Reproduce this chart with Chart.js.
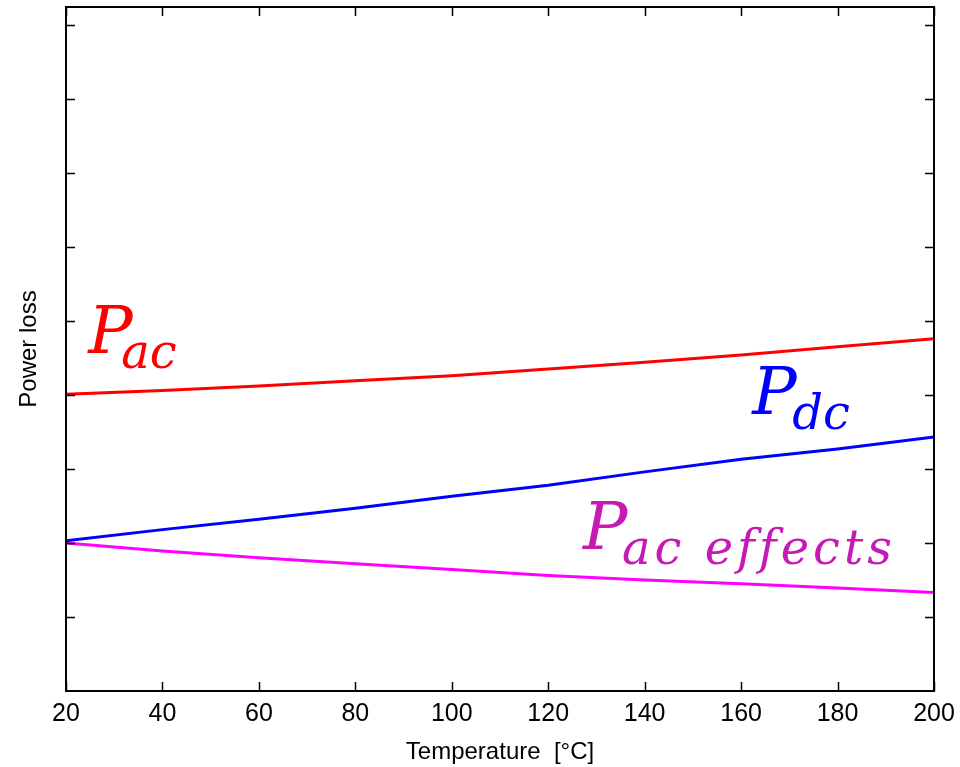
<!DOCTYPE html>
<html>
<head>
<meta charset="utf-8">
<title>Power loss vs temperature</title>
<script src="https://cdn.jsdelivr.net/npm/chart.js@4.4.0/dist/chart.umd.min.js"></script>
<style>
  html, body { margin: 0; padding: 0; background: #fff; }
</style>
</head>
<body>
<canvas id="lossChart" width="960" height="767"></canvas>
<script>
// Temperature sweep (°C) and loss curves (arbitrary units)
const temperature = [20, 40, 60, 80, 100, 120, 140, 160, 180, 200];
const pAc        = [4.01, 4.06, 4.12, 4.19, 4.26, 4.35, 4.44, 4.54, 4.65, 4.76];
const pDc        = [2.03, 2.18, 2.32, 2.47, 2.63, 2.78, 2.96, 3.13, 3.27, 3.43];
const pAcEffects = [2.00, 1.89, 1.80, 1.72, 1.64, 1.56, 1.50, 1.45, 1.39, 1.33];

const xTicks = [20, 40, 60, 80, 100, 120, 140, 160, 180, 200];
const yTicks = [1, 2, 3, 4, 5, 6, 7, 8, 9];

// Math-style labels next to each curve, anchored in data units
const curveLabels = [
  { main: 'P', sub: 'ac',         color: '#ff0000', x: 24.6,  y: 4.57, subDx: 33, spacing: 0 },
  { main: 'P', sub: 'dc',         color: '#0000ff', x: 162.3, y: 3.74, subDx: 40, spacing: 0 },
  { main: 'P', sub: 'ac effects', color: '#c71ab4', x: 127.2, y: 1.92, subDx: 39, spacing: 4 }
];

const axisFont = { family: "'Liberation Sans', Arial, sans-serif", size: 24 };

const labelPlugin = {
  id: 'curveLabels',
  afterDatasetsDraw(chart) {
    const { ctx, scales: { x, y } } = chart;
    ctx.save();
    ctx.textBaseline = 'alphabetic';
    ctx.textAlign = 'left';
    curveLabels.forEach(l => {
      const px = x.getPixelForValue(l.x);
      const py = y.getPixelForValue(l.y);
      ctx.fillStyle = l.color;
      ctx.letterSpacing = '0px';
      ctx.font = "italic 66px 'DejaVu Serif', serif";
      ctx.fillText(l.main, px, py);
      ctx.font = "italic 48px 'DejaVu Serif', serif";
      ctx.letterSpacing = l.spacing + 'px';
      ctx.fillText(l.sub, px + l.subDx, py + 15);
    });
    ctx.restore();
  }
};

// Box frame with inward ticks on all four sides
const framePlugin = {
  id: 'frame',
  afterDraw(chart) {
    const { ctx, chartArea: a, scales: { x, y } } = chart;
    ctx.save();
    ctx.strokeStyle = '#000';
    ctx.lineWidth = 1.5;
    ctx.beginPath();
    xTicks.forEach(v => {
      const px = Math.round(x.getPixelForValue(v)) + 0.5;
      ctx.moveTo(px, a.bottom); ctx.lineTo(px, a.bottom - 9);
      ctx.moveTo(px, a.top);    ctx.lineTo(px, a.top + 9);
    });
    yTicks.forEach(v => {
      const py = Math.round(y.getPixelForValue(v)) + 0.5;
      ctx.moveTo(a.left, py);  ctx.lineTo(a.left + 9, py);
      ctx.moveTo(a.right, py); ctx.lineTo(a.right - 9, py);
    });
    ctx.stroke();
    ctx.lineWidth = 2;
    ctx.strokeRect(a.left, a.top, a.right - a.left, a.bottom - a.top);
    ctx.restore();
  }
};

const line = (data, color) => ({
  data, borderColor: color, backgroundColor: color,
  borderWidth: 3, pointRadius: 0, tension: 0, fill: false
});

new Chart(document.getElementById('lossChart').getContext('2d'), {
  type: 'line',
  data: {
    labels: temperature,
    datasets: [
      line(pAc, '#ff0000'),
      line(pDc, '#0000ff'),
      line(pAcEffects, '#ff00ff')
    ]
  },
  options: {
    responsive: false,
    devicePixelRatio: 1,
    animation: false,
    layout: { padding: { top: 7, right: 26, left: 0, bottom: 0 } },
    plugins: { legend: { display: false }, tooltip: { enabled: false } },
    scales: {
      x: {
        type: 'linear',
        min: 20, max: 200,
        afterBuildTicks: s => { s.ticks = xTicks.map(v => ({ value: v })); },
        afterFit: s => { s.height = 76; s.paddingRight = 0; s.paddingLeft = 0; },
        grid: { display: false, drawTicks: false },
        border: { display: false },
        ticks: { color: '#000', font: { ...axisFont, size: 25 }, padding: 8, maxRotation: 0 },
        title: {
          display: true, text: 'Temperature  [°C]', color: '#000',
          font: { ...axisFont, lineHeight: 1 }, padding: { top: 0, bottom: 3 }
        }
      },
      y: {
        min: 0, max: 9.24,
        afterBuildTicks: s => { s.ticks = yTicks.map(v => ({ value: v })); },
        afterFit: s => { s.width = 66; },
        grid: { display: false, drawTicks: false },
        border: { display: false },
        ticks: { display: false },
        title: {
          display: true, text: 'Power loss', color: '#000',
          font: { ...axisFont, lineHeight: 1 }, padding: { top: 17, bottom: 0 }
        }
      }
    }
  },
  plugins: [labelPlugin, framePlugin]
});
</script>
</body>
</html>
